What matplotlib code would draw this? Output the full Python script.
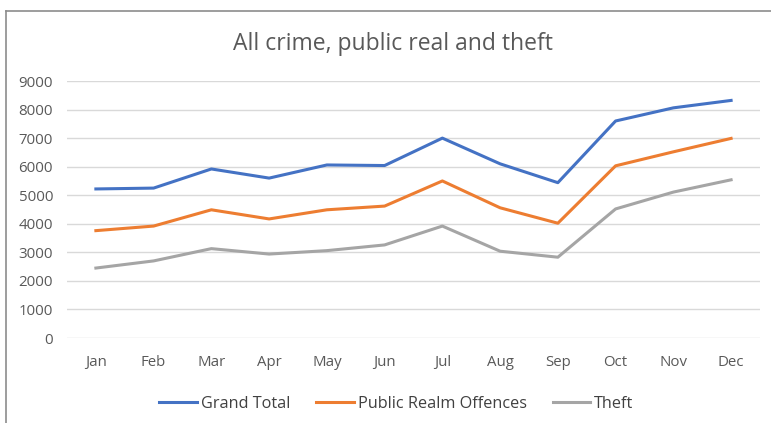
import numpy as np
import matplotlib.pyplot as plt
from matplotlib.lines import Line2D

months = ["Jan", "Feb", "Mar", "Apr", "May", "Jun", "Jul", "Aug", "Sep", "Oct", "Nov", "Dec"]
grand_total = [5220, 5250, 5920, 5600, 6060, 6040, 7000, 6100, 5440, 7600, 8060, 8320]
public_realm = [3760, 3920, 4490, 4170, 4490, 4620, 5500, 4560, 4020, 6030, 6520, 6990]
theft = [2450, 2700, 3130, 2940, 3060, 3260, 3920, 3040, 2830, 4520, 5110, 5540]

plt.rcParams['font.family'] = ['Open Sans', 'DejaVu Sans']

fig = plt.figure(figsize=(7.71, 4.23), dpi=100)
ax = fig.add_axes([0.0869, 0.2009, 0.8988, 0.6076])

x = np.arange(len(months))
ax.plot(x, grand_total, color='#4472C4', lw=2.2, label='Grand Total')
ax.plot(x, public_realm, color='#ED7D31', lw=2.2, label='Public Realm Offences')
ax.plot(x, theft, color='#A5A5A5', lw=2.2, label='Theft')

ax.set_xlim(-0.5, len(months) - 0.5)
ax.set_ylim(0, 9000)
ax.set_yticks(range(0, 9001, 1000))
ax.set_xticks(x)
ax.set_xticklabels(months)
ax.grid(axis='y', color='#D9D9D9', lw=1)
ax.set_axisbelow(True)
for s in ax.spines.values():
    s.set_visible(False)
ax.tick_params(length=0, labelsize=10.8, labelcolor='#595959')
ax.tick_params(axis='x', pad=12)
ax.tick_params(axis='y', pad=10)

fig.text(0.5097, 0.897, "All crime, public real and theft", ha='center', va='center',
         fontsize=16.5, color='#595959')

fig.legend(loc='center', bbox_to_anchor=(0.514, 0.046), ncol=3, frameon=False,
           fontsize=11.7, handlelength=2.3, columnspacing=1.6, handletextpad=0.25,
           labelcolor='#404040')

# chart frame: only the top and left edges are visible (image is cropped)
fx, fy = 5.5 / 771, 1 - 11.5 / 423
fig.lines.append(Line2D([fx, 1.0], [fy, fy], transform=fig.transFigure,
                        color='#8C8C8C', lw=1.2))
fig.lines.append(Line2D([fx, fx], [0.0, fy], transform=fig.transFigure,
                        color='#8C8C8C', lw=1.2))

fig.savefig("out.png", dpi=100)
